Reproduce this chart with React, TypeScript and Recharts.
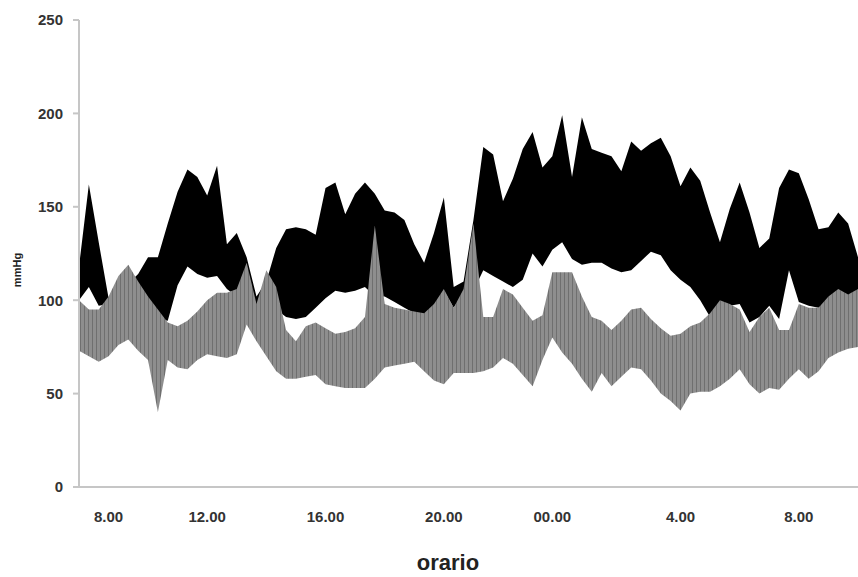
import { AreaChart, Area, XAxis, YAxis, Label } from "recharts";

// 24h blood pressure monitoring, one reading every ~20 min (80 readings)
const sysHi = [
  118, 162, 131, 101, 105, 109, 114, 123, 123, 141,
  158, 170, 166, 156, 172, 130, 136, 123, 102, 110,
  128, 138, 139, 138, 135, 160, 163, 146, 157, 163,
  157, 148, 147, 143, 130, 120, 136, 155, 107, 110,
  143, 182, 178, 153, 165, 181, 190, 171, 177, 199,
  166, 198, 181, 179, 177, 169, 185, 180, 184, 187,
  177, 161, 171, 164, 147, 131, 149, 163, 147, 128,
  133, 160, 170, 168, 154, 138, 139, 147, 141, 123,
];
const sysLo = [
  100, 107, 97, 98, 100, 100, 100, 95, 90, 89,
  108, 118, 114, 112, 113, 106, 102, 110, 96, 100,
  95, 91, 90, 91, 96, 101, 105, 104, 105, 107,
  102, 102, 99, 96, 93, 91, 96, 105, 96, 104,
  105, 116, 113, 110, 107, 111, 125, 118, 127, 131,
  122, 119, 120, 120, 117, 115, 116, 121, 126, 124,
  116, 111, 107, 100, 91, 98, 97, 98, 88, 91,
  97, 90, 116, 99, 97, 96, 100, 104, 101, 104,
];
const diaHi = [
  100, 95, 95, 102, 113, 119, 110, 102, 95, 88,
  86, 89, 94, 100, 104, 104, 106, 120, 98, 116,
  107, 84, 78, 86, 88, 85, 82, 83, 85, 91,
  140, 98, 96, 95, 94, 93, 98, 106, 96, 106,
  141, 91, 91, 106, 103, 96, 89, 92, 115, 115,
  115, 102, 91, 89, 84, 89, 95, 96, 90, 85,
  81, 82, 86, 88, 93, 100, 98, 95, 83, 91,
  96, 84, 84, 98, 96, 96, 102, 106, 103, 106,
];
const diaLo = [
  73, 70, 67, 70, 76, 79, 73, 68, 40, 68,
  64, 63, 68, 71, 70, 69, 71, 87, 78, 70,
  62, 58, 58, 59, 60, 55, 54, 53, 53, 53,
  58, 64, 65, 66, 67, 62, 57, 55, 61, 61,
  61, 62, 64, 69, 66, 60, 54, 68, 80, 72,
  66, 58, 51, 61, 54, 59, 64, 63, 57, 50,
  46, 41, 50, 51, 51, 54, 58, 63, 55, 50,
  53, 52, 58, 63, 58, 62, 69, 72, 74, 75,
];

const tickIndex = [3, 13, 25, 37, 48, 61, 73];
const tickLabels = ["8.00", "12.00", "16.00", "20.00", "00.00", "4.00", "8.00"];
const yTicks = [0, 50, 100, 150, 200, 250];

const data = sysHi.map((_, i) => ({
  i,
  sys: [sysLo[i], sysHi[i]],
  dia: [diaLo[i], diaHi[i]],
}));

const font = "'Liberation Sans', Arial, sans-serif";
const axisColor = "#c6c6c6";

export default function App() {
  return (
    <div style={{ position: "absolute", left: 0, top: 0, background: "#fff" }}>
      <AreaChart
        width={858}
        height={577}
        data={data}
        margin={{ top: 20, right: 0, bottom: 0, left: 0 }}
      >
        <defs>
          <pattern id="stripes" width="4" height="8" patternUnits="userSpaceOnUse">
            <rect width="4" height="8" fill="#8e8e8e" />
            <rect width="1" height="8" fill="#6f6f6f" />
          </pattern>
        </defs>
        <XAxis
          dataKey="i"
          type="number"
          domain={[0, 79]}
          ticks={tickIndex}
          interval={0}
          tickFormatter={(v) => tickLabels[tickIndex.indexOf(v)]}
          tickLine={false}
          tickSize={0}
          tickMargin={24}
          height={90}
          axisLine={{ stroke: axisColor, strokeWidth: 2 }}
          tick={{ fill: "#333", fontSize: 15, fontWeight: "bold", fontFamily: font }}
        >
          <Label
            content={() => (
              <text
                x={448}
                y={570}
                textAnchor="middle"
                fill="#222"
                fontSize={22}
                fontWeight="bold"
                fontFamily={font}
              >
                orario
              </text>
            )}
          />
        </XAxis>
        <YAxis
          type="number"
          domain={[0, 250]}
          ticks={yTicks}
          interval={0}
          width={79}
          tickSize={6}
          tickMargin={10}
          axisLine={{ stroke: axisColor, strokeWidth: 2 }}
          tickLine={{ stroke: axisColor, strokeWidth: 2 }}
          tick={{ fill: "#333", fontSize: 15, fontWeight: "bold", fontFamily: font }}
        >
          <Label
            content={() => (
              <text
                x={21}
                y={270}
                transform="rotate(-90 21 270)"
                textAnchor="middle"
                fill="#222"
                fontSize={11}
                fontWeight="bold"
                fontFamily={font}
              >
                mmHg
              </text>
            )}
          />
        </YAxis>
        <Area
          dataKey="sys"
          type="linear"
          stroke="none"
          fill="#000"
          fillOpacity={1}
          dot={false}
          activeDot={false}
          isAnimationActive={false}
        />
        <Area
          dataKey="dia"
          type="linear"
          stroke="none"
          fill="url(#stripes)"
          fillOpacity={1}
          dot={false}
          activeDot={false}
          isAnimationActive={false}
        />
      </AreaChart>
    </div>
  );
}
